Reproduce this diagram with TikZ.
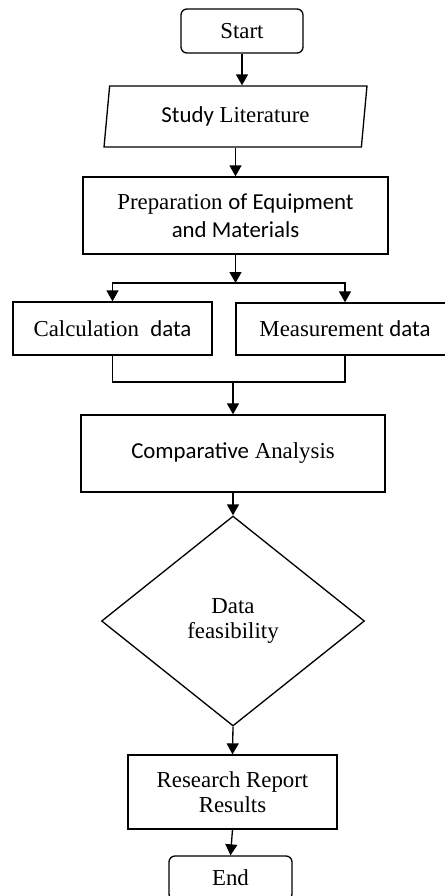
\documentclass[tikz,border=0pt]{standalone}
\usepackage{fontspec}
\setmainfont{Liberation Serif}
\newfontfamily\calib{Carlito}
\usetikzlibrary{arrows.meta, shapes.geometric}

\begin{document}
\begin{tikzpicture}[
  x=0.02cm, y=-0.02cm,
  box/.style={rectangle, draw, line width=0.75pt, align=center, inner sep=0pt},
  term/.style={box, rounded corners=1.2mm},
  edge/.style={-{Triangle[length=2.2mm, width=2.4mm]}, line width=0.75pt},
  link/.style={line width=0.75pt},
  font=\fontsize{13}{14}\selectfont
]
\useasboundingbox (0,0) rectangle (444,896);

\node[term, minimum width=2.44cm, minimum height=0.88cm] (start) at (242,31) {Start};
\node[box, trapezium, trapezium left angle=74, trapezium right angle=106,
  trapezium stretches body, minimum width=5.26cm, minimum height=1.22cm] (lit) at (235.5,116.5) {{\calib Study} Literature};
\node[box, minimum width=6.1cm, minimum height=1.54cm, font=\fontsize{13}{16}\selectfont] (prep) at (235.5,215.5)
  {Preparation {\calib of Equipment}\\{\calib and Materials}};
\node[box, minimum width=3.98cm, minimum height=1.06cm] (calc) at (112.5,328.5) {Calculation\ \ {\calib data}};
\node[box, minimum width=4.36cm, minimum height=1.04cm] (meas) at (345,329) {Measurement {\calib data}};
\node[box, minimum width=6.08cm, minimum height=1.54cm] (comp) at (233,453.5) {{\calib Comparative} Analysis};
\node[box, diamond, minimum width=5.26cm, minimum height=4.2cm] (feas) at (233,621) {Data\\feasibility};
\node[box, minimum width=4.18cm, minimum height=1.48cm] (report) at (232.5,792) {Research Report\\Results};
\node[term, minimum width=2.46cm, minimum height=0.88cm] (stop) at (230.5,878) {End};

\coordinate (fork) at (prep.south |- 0,283);
\coordinate (join) at (comp.north |- 0,382);

\draw[edge] (start.south) -- (start.south |- lit.north);
\draw[edge] (prep.north |- lit.south) -- (prep.north);
\draw[edge] (prep.south) -- (fork);
\draw[edge] (fork) -| (calc.north);
\draw[edge] (fork) -| (meas.north);
\draw[link] (calc.south) |- (join);
\draw[link] (meas.south) |- (join);
\draw[edge] (join) -- (comp.north);
\draw[edge] (comp.south) -- (feas.north);
\draw[edge] (feas.south) -- (report.north);
\draw[edge] (report.south) -- (stop.north);
\end{tikzpicture}
\end{document}
